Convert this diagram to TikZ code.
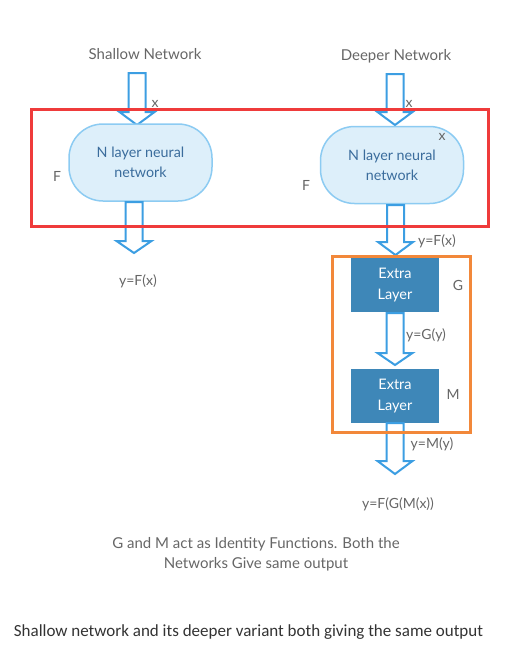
\documentclass[tikz,border=0pt]{standalone}
\usepackage{fontspec}
\setmainfont{Lato}
\newfontfamily\capfont{Carlito}
\usetikzlibrary{positioning}
\definecolor{arrblue}{HTML}{3C9EE2}
\definecolor{nodefill}{HTML}{DDEFFA}
\definecolor{nodeline}{HTML}{8CCBF2}
\definecolor{nodetext}{HTML}{3A6C9C}
\definecolor{layerfill}{HTML}{3E87B8}
\definecolor{labgray}{HTML}{666666}
\definecolor{redbox}{HTML}{EF3B3B}
\definecolor{orangebox}{HTML}{F2883A}
\tikzset{
  lab/.style={text=labgray, font=\fontsize{14}{17}\selectfont, inner sep=0pt},
  title/.style={text=labgray, font=\fontsize{15}{18}\selectfont, inner sep=0pt},
  netnode/.style={draw=nodeline, line width=1.5pt, fill=nodefill, rounded corners=34pt,
    minimum width=143pt, minimum height=77pt, align=center, text=nodetext,
    font=\fontsize{14.3}{20}\selectfont},
  layernode/.style={fill=layerfill, minimum width=88pt, minimum height=54pt, align=center,
    text=white, font=\fontsize{14.5}{21}\selectfont},
  blockarr/.style={draw=arrblue, line width=2pt, fill=white, line join=miter},
  framebox/.style={line width=3pt}
}
\newcommand\blockarrow[4]{%
  \draw[blockarr] (#1-8.5,#2) -- (#1+8.5,#2) -- (#1+8.5,#3) -- (#1+17.5,#3) -- (#1,#4)
    -- (#1-17.5,#3) -- (#1-8.5,#3) -- cycle;}
\begin{document}
\begin{tikzpicture}[x=1pt,y=-1pt]
\useasboundingbox (0,0) rectangle (511,667);
% titles
\node[title] (tshallow) at (145,54) {Shallow Network};
\node[title] (tdeep) at (396,56) {Deeper Network};
% arrows into nodes
\blockarrow{137}{73}{112}{125}
\blockarrow{395}{74}{112}{125}
\node[lab] (xs) at (155,104) {x};
\node[lab] (xd) at (409,104) {x};
% network nodes
\node[netnode] (ns) at (140.5,162.5) {N layer neural\\network};
\node[netnode] (nd) at (392,165) {N layer neural\\network};
\node[lab] (xin) at (442,137) {x};
\node[lab] (fs) at (57,176) {F};
\node[lab] (fd) at (306,185) {F};
% arrows out of nodes
\blockarrow{134}{202}{241}{253}
\blockarrow{395.5}{205}{242}{255}
\node[lab] (ys) at (138,281) {y=F(x)};
\node[lab] (yfd) at (437,241) {y=F(x)};
% red frame
\draw[framebox, draw=redbox] (31,109) rectangle (488,226);
% extra layers
\node[layernode] (g) at (395,285) {Extra\\Layer};
\node[layernode] (m) at (395,396) {Extra\\Layer};
\node[lab] (gl) at (458,285) {G};
\node[lab] (ml) at (453,394) {M};
\blockarrow{395}{313}{353}{365}
\node[lab] (yg) at (426,335) {y=G(y)};
\blockarrow{395}{423}{461}{474}
\node[lab] (ym) at (432,444) {y=M(y)};
% orange frame
\draw[framebox, draw=orangebox] (332,256) rectangle (470,432);
\node[lab] (yfinal) at (398,504) {y=F(G(M(x))};
% notes
\node[title, align=center, font=\fontsize{15}{20}\selectfont] (note) at (256,554)
  {G and M act as Identity Functions. Both the\\Networks Give same output};
\node[inner sep=0pt, text=black!80, font=\capfont\fontsize{17}{20}\selectfont] (cap) at (248.5,632)
  {Shallow network and its deeper variant both giving the same output};
\end{tikzpicture}
\end{document}
